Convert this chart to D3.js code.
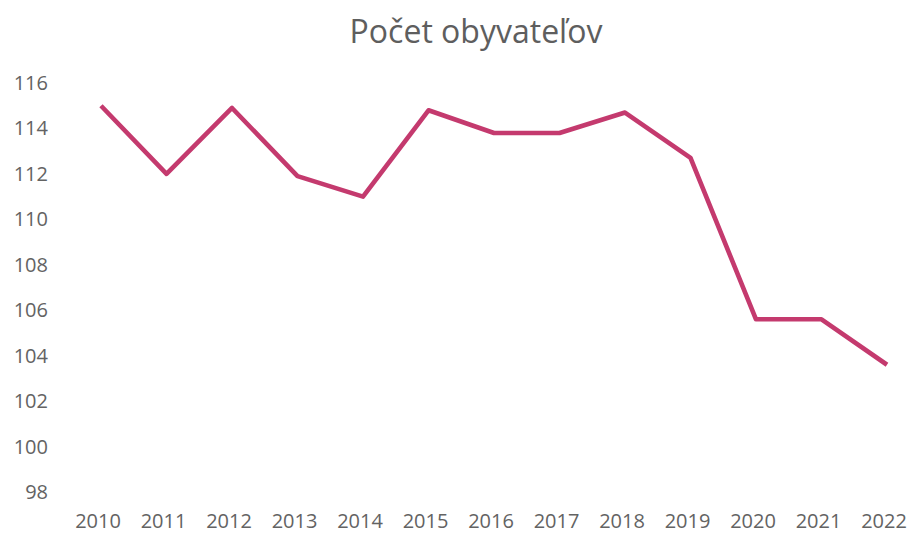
<!DOCTYPE html>
<html>
<head>
<meta charset="utf-8">
<script src="https://cdn.jsdelivr.net/npm/d3@7"></script>
<style>
  body { margin: 0; background: #fff; }
  text { font-family: "Open Sans", sans-serif; }
</style>
</head>
<body>
<svg id="chart" width="910" height="542"></svg>
<script>
const years = ["2010", "2011", "2012", "2013", "2014", "2015", "2016", "2017", "2018", "2019", "2020", "2021", "2022"];
const population = [115, 112, 114.9, 111.9, 111, 114.8, 113.8, 113.8, 114.7, 112.7, 105.6, 105.6, 103.6];
const yTicks = [98, 100, 102, 104, 106, 108, 110, 112, 114, 116];

const svg = d3.select("#chart");

const x = d3.scalePoint()
  .domain(years)
  .range([101, 887]);

const y = d3.scaleLinear()
  .domain([98, 116])
  .range([492, 83]);

// title
svg.append("text")
  .attr("x", 476)
  .attr("y", 43)
  .attr("text-anchor", "middle")
  .attr("fill", "#5e5e5e")
  .attr("font-size", "32px")
  .text("Počet obyvateľov");

// y labels
svg.append("g")
  .selectAll("text")
  .data(yTicks)
  .enter()
  .append("text")
  .attr("x", 48)
  .attr("y", d => y(d))
  .attr("dy", "0.35em")
  .attr("text-anchor", "end")
  .attr("fill", "#636363")
  .attr("font-size", "20px")
  .text(d => d);

// x labels
svg.append("g")
  .selectAll("text")
  .data(years)
  .enter()
  .append("text")
  .attr("x", d => x(d) - 3)
  .attr("y", 528)
  .attr("text-anchor", "middle")
  .attr("fill", "#636363")
  .attr("font-size", "20px")
  .text(d => d);

const line = d3.line()
  .x((d, i) => x(years[i]))
  .y(d => y(d));

svg.append("path")
  .datum(population)
  .attr("fill", "none")
  .attr("stroke", "#c43a6e")
  .attr("stroke-width", 4.6)
  .attr("stroke-linejoin", "round")
  .attr("d", line);
</script>
</body>
</html>
